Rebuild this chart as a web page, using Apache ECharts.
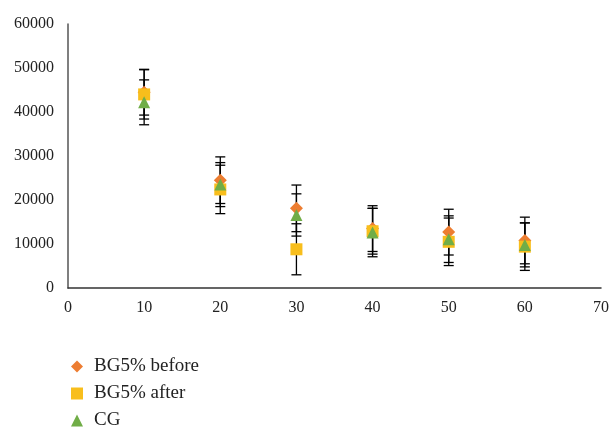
<!DOCTYPE html>
<html><head><meta charset="utf-8">
<script src="https://cdn.jsdelivr.net/npm/echarts@6/dist/echarts.min.js"></script>
<style>html,body{margin:0;padding:0;background:#fff}#c{width:615px;height:428px}</style>
</head><body><div id="c"></div>
<script>
const xs = [10, 20, 30, 40, 50, 60];
const before = [44500, 24500, 18100, 13500, 12700, 10800];
const beforeErr = [5200, 5300, 5300, 5200, 5200, 5300];
const after = [44000, 22400, 8800, 12900, 10500, 9400];
const afterErr = [5600, 5500, 5800, 5200, 5400, 5400];
const cg = [42200, 23500, 16600, 12600, 11100, 9800];
const cgErr = [5100, 5000, 4800, 5500, 5300, 5000];
const yTicks = [0, 10000, 20000, 30000, 40000, 50000, 60000];

const font = '"Liberation Serif", "DejaVu Serif", serif';
function errSeries(vals, errs, z) {
  return {
    type: 'custom', z: z, silent: true,
    data: xs.map((x, i) => [x, vals[i] - errs[i], vals[i] + errs[i]]),
    renderItem: function (params, api) {
      const x = api.value(0);
      const lo = api.coord([x, api.value(1)]);
      const hi = api.coord([x, api.value(2)]);
      const w = 5;
      const st = {stroke: '#000', lineWidth: 1.3};
      return {type: 'group', children: [
        {type: 'line', shape: {x1: lo[0], y1: lo[1], x2: hi[0], y2: hi[1]}, style: st},
        {type: 'line', shape: {x1: lo[0] - w, y1: lo[1], x2: lo[0] + w, y2: lo[1]}, style: st},
        {type: 'line', shape: {x1: hi[0] - w, y1: hi[1], x2: hi[0] + w, y2: hi[1]}, style: st}
      ]};
    }
  };
}
const chart = echarts.init(document.getElementById('c'));
chart.setOption({
  animation: false,
  grid: {left: 68, right: 14, top: 24, bottom: 140},
  legend: {
    orient: 'vertical', left: 66, top: 352, height: 100, itemGap: 8, itemWidth: 12, itemHeight: 12,
    textStyle: {fontFamily: font, fontSize: 19, color: '#222', padding: [0, 0, 0, 6]},
    data: [
      {name: 'BG5% before', icon: 'diamond'},
      {name: 'BG5% after', icon: 'rect'},
      {name: 'CG', icon: 'triangle'}
    ]
  },
  xAxis: {
    type: 'value', min: 0, max: 70, interval: 10,
    axisLine: {lineStyle: {color: '#333', width: 1.5}},
    axisTick: {show: false}, splitLine: {show: false},
    axisLabel: {fontFamily: font, fontSize: 16, color: '#222', margin: 12}
  },
  yAxis: {
    type: 'value', min: 0, max: 60000, interval: 10000,
    axisLine: {show: true, lineStyle: {color: '#555', width: 1.5}},
    axisTick: {show: false}, splitLine: {show: false},
    axisLabel: {fontFamily: font, fontSize: 16, color: '#222', margin: 14,
      formatter: v => yTicks.includes(v) ? String(v) : ''}
  },
  series: [
    errSeries(before, beforeErr, 1),
    errSeries(after, afterErr, 1),
    errSeries(cg, cgErr, 1),
    {name: 'BG5% before', type: 'scatter', symbol: 'diamond', symbolSize: 13, z: 3,
      itemStyle: {color: '#ED7D31', opacity: 1}, data: xs.map((x, i) => [x, before[i]])},
    {name: 'BG5% after', type: 'scatter', symbol: 'rect', symbolSize: 12, z: 4,
      itemStyle: {color: '#F8BE1C', opacity: 1}, data: xs.map((x, i) => [x, after[i]])},
    {name: 'CG', type: 'scatter', symbol: 'triangle', symbolSize: 12, z: 5,
      itemStyle: {color: '#70AD47', opacity: 1}, data: xs.map((x, i) => [x, cg[i]])}
  ]
});
</script></body></html>
